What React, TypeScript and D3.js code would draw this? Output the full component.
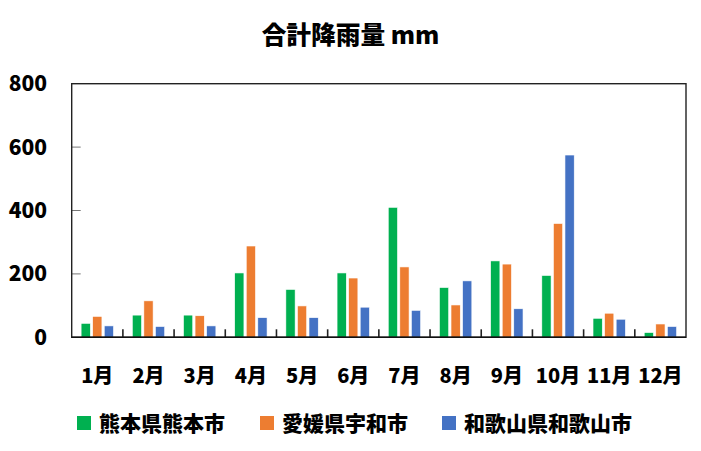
import React from "react";
import * as d3 from "d3";

const months = ["1月", "2月", "3月", "4月", "5月", "6月", "7月", "8月", "9月", "10月", "11月", "12月"];
const seriesNames = ["熊本県熊本市", "愛媛県宇和市", "和歌山県和歌山市"];
const kumamoto = [44, 70, 70, 203, 151, 203, 410, 157, 241, 195, 60, 15];
const uwa = [66, 115, 68, 288, 99, 187, 222, 102, 231, 359, 76, 42];
const wakayama = [36, 34, 36, 62, 62, 95, 85, 178, 90, 575, 57, 34];
const yTicks = [0, 200, 400, 600, 800];
const colors = ["#00B050", "#ED7D31", "#4472C4"];

const W = 701;
const H = 451;
const left = 71.7;
const right = 686;
const top = 83.7;
const bottom = 337.3;
const font = "'Noto Sans CJK JP', 'Noto Sans', sans-serif";

export default function App() {
  const series = [kumamoto, uwa, wakayama];
  const x0 = d3.scaleBand<string>().domain(months).range([left, right]).padding(0);
  const step = x0.step();
  const groupPad = 9.4;
  const x1 = d3
    .scaleBand<number>()
    .domain([0, 1, 2])
    .range([groupPad, step - groupPad])
    .paddingInner(0.2)
    .paddingOuter(0);
  const y = d3.scaleLinear().domain([0, 800]).range([bottom, top]);

  const legendX = [77, 260, 442];

  return (
    <svg
      width={W}
      height={H}
      style={{ position: "absolute", left: 0, top: 0, background: "#fff" }}
      fontFamily={font}
    >
      <rect x={0} y={0} width={W} height={H} fill="#fff" />
      <text x={350.5} y={35} dy="0.36em" textAnchor="middle" fontSize={24.7} fontWeight={900} fill="#000">
        合計降雨量 mm
      </text>

      {/* y tick marks */}
      {yTicks
        .filter((t) => t > 0 && t < 800)
        .map((t) => (
          <line key={"yt" + t} x1={left} x2={left + 9} y1={y(t)} y2={y(t)} stroke="#777" strokeWidth={1} />
        ))}

      {/* y tick labels */}
      {yTicks.map((t) => (
        <text
          key={"yl" + t}
          x={47}
          y={y(t)}
          dy="0.36em"
          textAnchor="end"
          fontSize={21}
          fontWeight={900}
          fill="#000"
        >
          {t}
        </text>
      ))}

      {/* bars */}
      {months.map((m, i) => (
        <g key={m} transform={`translate(${x0(m)},0)`}>
          {series.map((s, k) => (
            <rect
              key={k}
              x={x1(k)}
              y={y(s[i])}
              width={x1.bandwidth()}
              height={bottom - y(s[i])}
              fill={colors[k]}
              stroke="#fff"
              strokeWidth={0.6}
            />
          ))}
        </g>
      ))}

      {/* category tick marks */}
      {months.slice(1).map((m) => (
        <line
          key={"ct" + m}
          x1={x0(m)!}
          x2={x0(m)!}
          y1={bottom}
          y2={bottom - 8}
          stroke="#222"
          strokeWidth={1.6}
        />
      ))}

      {/* plot frame */}
      <rect x={left} y={top} width={right - left} height={bottom - top} fill="none" stroke="#222" strokeWidth={1.4} />
      <line x1={left} x2={right} y1={bottom} y2={bottom} stroke="#111" strokeWidth={1.6} />

      {/* x labels */}
      {months.map((m) => (
        <text
          key={"xl" + m}
          x={x0(m)! + step / 2}
          y={376}
          dy="0.36em"
          textAnchor="middle"
          fontSize={20}
          fontWeight={900}
          fill="#000"
        >
          {m}
        </text>
      ))}

      {/* legend */}
      {seriesNames.map((n, k) => (
        <g key={n}>
          <rect x={legendX[k]} y={416} width={14} height={14} fill={colors[k]} />
          <text x={legendX[k] + 22} y={423} dy="0.36em" fontSize={21} fontWeight={900} fill="#000">
            {n}
          </text>
        </g>
      ))}
    </svg>
  );
}
